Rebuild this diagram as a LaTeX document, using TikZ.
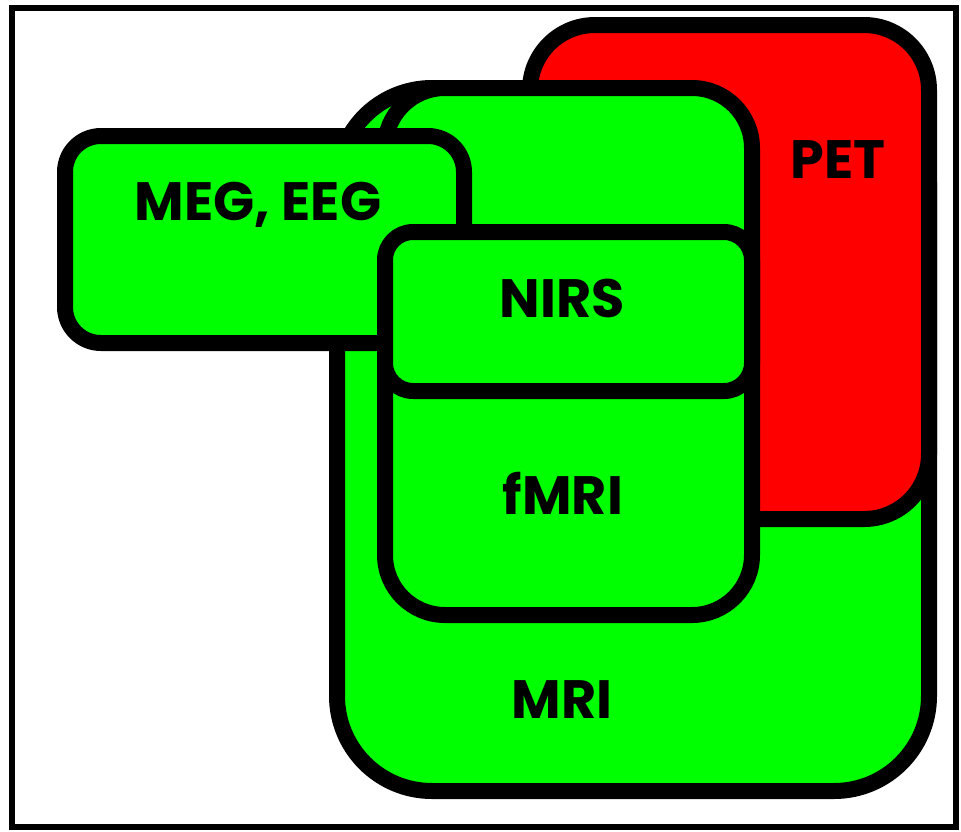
\documentclass[tikz,border=0pt]{standalone}
\usepackage{fontspec}
\setmainfont{Poppins}
\begin{document}
\begin{tikzpicture}[x=1pt,y=-1pt,
  region/.style={draw=black,line width=16pt,fill=green,line join=round},
  petregion/.style={draw=black,line width=16pt,fill=red,line join=round},
  lbl/.style={font=\fontsize{54}{60}\selectfont\bfseries,text=black,inner sep=0pt}]
\definecolor{green}{RGB}{0,255,0}
\definecolor{red}{RGB}{255,0,0}
\useasboundingbox (0,0) rectangle (961,831);
\fill[white] (0,0) rectangle (961,831);
\draw[line width=6pt] (12,8) rectangle (956,827);
% MRI
\draw[region,rounded corners=95pt] (337,88) rectangle (929,791);
% PET
\draw[petregion,rounded corners=65pt] (530,25) rectangle (929,519);
% fMRI box
\draw[region,rounded corners=60pt] (385,88) rectangle (752,615);
% MEG/EEG
\draw[region,rounded corners=36pt] (65,136) rectangle (464,343);
% NIRS
\draw[region,rounded corners=28pt] (385,232) rectangle (752,391);
\node[lbl] (meg) at (258,205) {MEG, EEG};
\node[lbl] (pet) at (838,160) {PET};
\node[lbl] (nirs) at (562,298) {NIRS};
\node[lbl] (fmri) at (563,493) {fMRI};
\node[lbl] (mri) at (562,700) {MRI};
\end{tikzpicture}
\end{document}
